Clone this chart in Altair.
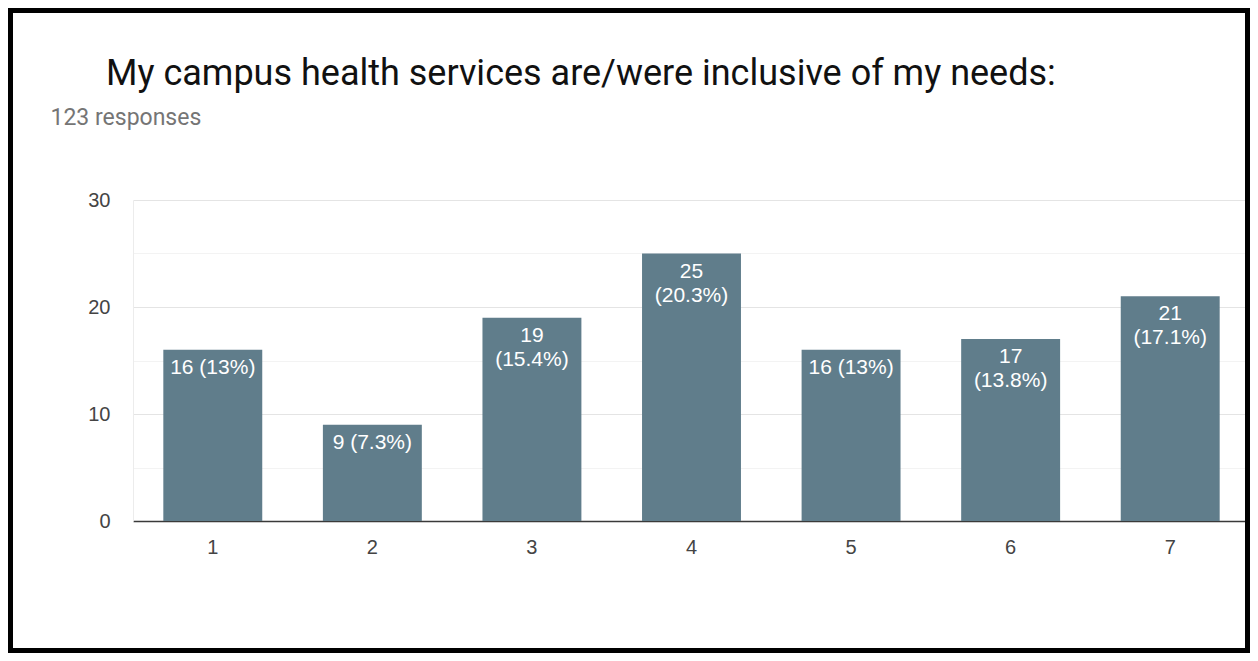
import altair as alt
import pandas as pd

options = ["1", "2", "3", "4", "5", "6", "7"]
counts = [16, 9, 19, 25, 16, 17, 21]
labels = ["16 (13%)", "9 (7.3%)", "19\n(15.4%)", "25\n(20.3%)", "16 (13%)", "17\n(13.8%)", "21\n(17.1%)"]
y_ticks = [0, 5, 10, 15, 20, 25, 30]

title_text = "My campus health services are/were inclusive of my needs:"
subtitle_text = "123 responses"

df = pd.DataFrame({"option": options, "count": counts, "label": labels})

FONT = "Roboto"
CHART_FONT = "Liberation Sans"
BAR = "#607D8B"

x_enc = alt.X(
    "option:N",
    sort=options,
    scale=alt.Scale(paddingInner=0.38, paddingOuter=0.19),
    axis=alt.Axis(
        title=None, labelAngle=0, labelFontSize=20, labelColor="#444444", labelFont=CHART_FONT,
        labelPadding=16, ticks=False, domainColor="#3a3a3a", domainWidth=1.6, grid=False,
    ),
)
y_enc = alt.Y(
    "count:Q",
    scale=alt.Scale(domain=[0, 30], nice=False),
    axis=alt.Axis(
        values=y_ticks,
        labelExpr="datum.value % 10 === 0 ? datum.label : ''",
        labelFontSize=20, labelColor="#444444", labelFont=CHART_FONT, labelPadding=23,
        ticks=False, domain=True, domainColor="#ececec", domainWidth=1,
        grid=True,
        gridColor={"condition": {"test": "datum.value % 10 === 0", "value": "#e4e4e4"}, "value": "#f3f3f3"},
        gridWidth=1.2,
        title=subtitle_text, titleAngle=0, titleAlign="left", titleBaseline="alphabetic",
        titleX=-83, titleY=-76, titleFontSize=23, titleFont=FONT, titleFontWeight="normal",
        titleColor="#757575",
    ),
)

bars = alt.Chart(df).mark_bar(color=BAR).encode(x=x_enc, y=y_enc)
texts = alt.Chart(df).mark_text(
    color="white", fontSize=21, font=CHART_FONT, baseline="top", dy=7, lineBreak="\n", lineHeight=24
).encode(x=x_enc, y=y_enc, text="label:N")

frame = alt.Chart(pd.DataFrame({"a": [0]})).mark_rect(
    filled=False, stroke="black", strokeWidth=5
).encode(
    x=alt.value(-122.5), x2=alt.value(1114.5), y=alt.value(-189.5), y2=alt.value(450.5)
)

chart = alt.layer(bars, texts, frame).properties(
    width=1117,
    height=321,
    title=alt.TitleParams(
        title_text, anchor="start", frame="group", dx=-27, offset=-85,
        fontSize=36, font=FONT, fontWeight="normal", color="#111111",
    ),
    autosize="none",
    padding={"left": 125, "top": 192, "right": 0, "bottom": 132},
).configure_view(stroke=None)

chart.save("out.html", embed_options={"renderer": "svg", "actions": False})
